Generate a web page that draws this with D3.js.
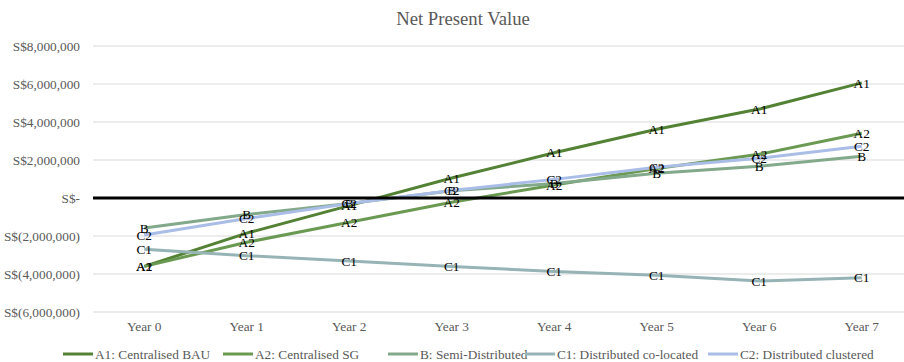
<!DOCTYPE html>
<html>
<head>
<meta charset="utf-8">
<script src="https://cdn.jsdelivr.net/npm/d3@7"></script>
<style>
  html, body { margin: 0; padding: 0; background: #fff; }
  svg { display: block; font-family: "Liberation Serif", "Times New Roman", serif; }
</style>
</head>
<body>
<svg id="chart" width="904" height="362"></svg>
<script>
// Categories and series (S$ net present value per year)
const years = ["Year 0", "Year 1", "Year 2", "Year 3", "Year 4", "Year 5", "Year 6", "Year 7"];
const seriesNames = ["A1: Centralised BAU", "A2: Centralised SG", "B: Semi-Distributed", "C1: Distributed co-located", "C2: Distributed clustered"];
const seriesTags = ["A1", "A2", "B", "C1", "C2"];
const seriesColors = ["#548235", "#6a9a52", "#82a98a", "#96b3b6", "#a9bde6"];
const a1Values = [-3600000, -1850000, -400000, 1050000, 2380000, 3620000, 4680000, 6060000];
const a2Values = [-3600000, -2330000, -1280000, -220000, 680000, 1550000, 2300000, 3410000];
const bValues  = [-1580000, -870000, -290000, 380000, 760000, 1300000, 1670000, 2200000];
const c1Values = [-2700000, -3040000, -3310000, -3600000, -3870000, -4060000, -4370000, -4200000];
const c2Values = [-1950000, -1080000, -290000, 400000, 980000, 1620000, 2090000, 2720000];
const yTicks = [-6000000, -4000000, -2000000, 0, 2000000, 4000000, 6000000, 8000000];

const allValues = [a1Values, a2Values, bValues, c1Values, c2Values];

const svg = d3.select("#chart");
const plot = { left: 93, right: 913, top: 46, bottom: 312 };

const x = d3.scaleBand().domain(years).range([plot.left, plot.right]);
const y = d3.scaleLinear().domain([-6000000, 8000000]).range([plot.bottom, plot.top]);

const fmt = v => {
  if (v === 0) return "S$-";
  const s = d3.format(",")(Math.abs(v));
  return v < 0 ? `S$(${s})` : `S$${s}`;
};

// Title
svg.append("text")
  .attr("x", 463).attr("y", 25)
  .attr("text-anchor", "middle")
  .attr("font-size", 18.7)
  .attr("fill", "#595959")
  .text("Net Present Value");

// Horizontal gridlines
svg.append("g")
  .selectAll("line")
  .data(yTicks.filter(d => d !== 0))
  .join("line")
  .attr("x1", plot.left).attr("x2", plot.right)
  .attr("y1", d => y(d)).attr("y2", d => y(d))
  .attr("stroke", "#d9d9d9").attr("stroke-width", 1);

// Y axis labels
const yAxis = svg.append("g")
  .attr("transform", `translate(${plot.left - 13},0)`)
  .call(d3.axisLeft(y).tickValues(yTicks).tickFormat(fmt).tickSize(0).tickPadding(0));
yAxis.select(".domain").remove();
yAxis.selectAll("text")
  .attr("font-family", "Liberation Serif, Times New Roman, serif")
  .attr("font-size", 13.3)
  .attr("fill", "#595959");

// X axis labels
const xAxis = svg.append("g")
  .attr("transform", `translate(0,${plot.bottom + 6})`)
  .call(d3.axisBottom(x).tickSize(0).tickPadding(4));
xAxis.select(".domain").remove();
xAxis.selectAll("text")
  .attr("font-family", "Liberation Serif, Times New Roman, serif")
  .attr("font-size", 13.3)
  .attr("fill", "#595959");

// Lines
const line = d3.line()
  .x((d, i) => x(years[i]) + x.bandwidth() / 2)
  .y(d => y(d));

svg.append("g")
  .selectAll("path")
  .data(allValues)
  .join("path")
  .attr("d", d => line(d))
  .attr("fill", "none")
  .attr("stroke", (d, i) => seriesColors[i])
  .attr("stroke-width", 3)
  .attr("stroke-linejoin", "round");

// Zero line drawn over the series
svg.append("line")
  .attr("x1", plot.left).attr("x2", plot.right)
  .attr("y1", y(0)).attr("y2", y(0))
  .attr("stroke", "#000").attr("stroke-width", 3);

// Data labels centred on each point
const labels = svg.append("g");
allValues.forEach((vals, si) => {
  labels.selectAll(null)
    .data(vals)
    .join("text")
    .attr("x", (d, i) => x(years[i]) + x.bandwidth() / 2)
    .attr("y", d => y(d))
    .attr("dy", "0.35em")
    .attr("text-anchor", "middle")
    .attr("font-size", 13.3)
    .attr("fill", "#000")
    .text(seriesTags[si]);
});

// Legend
const legendItems = [
  { x: 63 }, { x: 223 }, { x: 388 }, { x: 525 }, { x: 708 }
];
const legend = svg.append("g");
seriesNames.forEach((name, i) => {
  const g = legend.append("g").attr("transform", `translate(${legendItems[i].x},354)`);
  g.append("line")
    .attr("x1", 0).attr("x2", 30)
    .attr("y1", 0).attr("y2", 0)
    .attr("stroke", seriesColors[i]).attr("stroke-width", 3);
  g.append("text")
    .attr("x", 32).attr("y", 0).attr("dy", "0.35em")
    .attr("font-size", 13.3)
    .attr("fill", "#595959")
    .text(name);
});
</script>
</body>
</html>
